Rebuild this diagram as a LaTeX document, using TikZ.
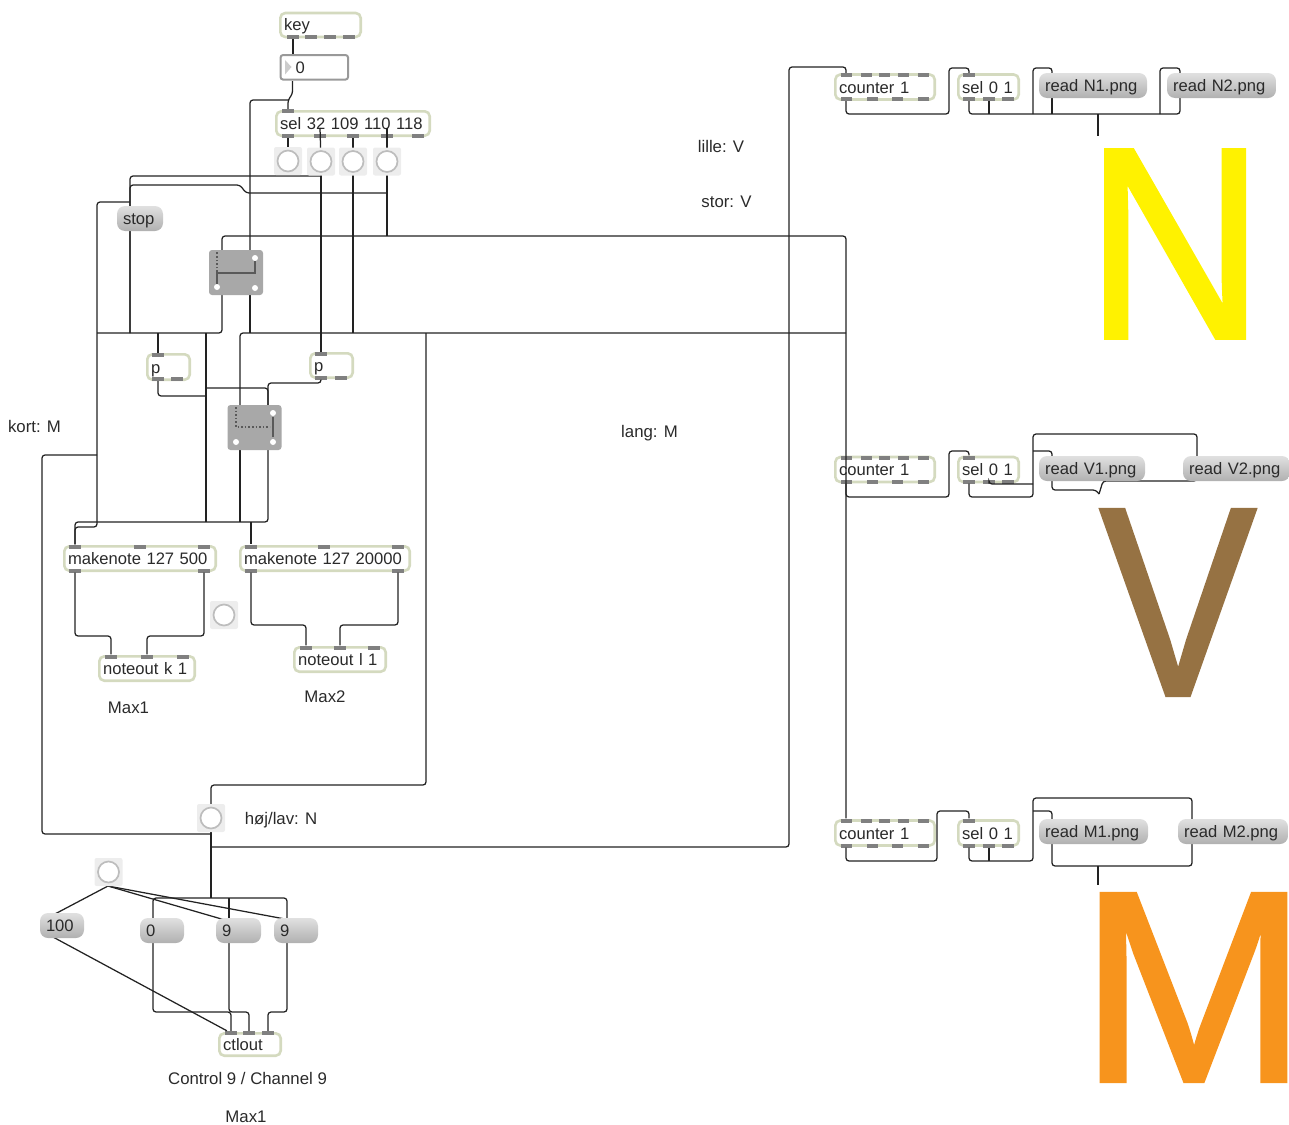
\documentclass[tikz,border=0pt]{standalone}
\usepackage{fontspec}
\setmainfont{Liberation Sans}
\newfontface\bigface{Liberation Sans}[FakeBold=1.5]
\pgfdeclarelayer{front}
\pgfsetlayers{main,front}
\definecolor{objline}{HTML}{D4DABF}
\definecolor{portgray}{HTML}{808080}
\definecolor{wirecol}{HTML}{222222}
\definecolor{txtcol}{HTML}{2A2A2A}
\definecolor{switchgray}{HTML}{A8A8A8}
\definecolor{lettern}{HTML}{FFF200}
\definecolor{letterv}{HTML}{967243}
\definecolor{letterm}{HTML}{F7941D}
\tikzset{
  lbl/.style={font=\fontsize{16.8}{20}\selectfont, text=txtcol, inner sep=0pt},
  boxtxt/.style={font=\fontsize{16.6}{20}\selectfont, text=txtcol, text width=#1, align=left,
    inner sep=0pt, text height=12pt, text depth=0pt},
  objbox/.style={boxtxt=#1, draw=objline, fill=white, line width=2.6pt, rounded corners=5pt,
    execute at begin node=\hspace*{3.8pt}},
  msgbox/.style={boxtxt=#1, top color=gray!24, bottom color=gray!62, rounded corners=8pt,
    execute at begin node=\hspace*{6pt}},
  numbox/.style={boxtxt=#1, draw=gray!80, fill=white, line width=2pt, rounded corners=2.5pt,
    execute at begin node=\hspace*{15pt}},
  portbox/.style={fill=portgray, inner sep=0pt, minimum width=12pt, minimum height=4pt},
  btnbg/.style={fill=gray!14, rounded corners=2pt},
  btnring/.style={circle, draw=gray!52, fill=white, line width=1.7pt, inner sep=0pt, minimum size=21pt},
  swbox/.style={fill=switchgray, rounded corners=3pt, inner sep=0pt, minimum width=54pt, minimum height=45pt},
  swdot/.style={circle, fill=white, inner sep=0pt, minimum size=6pt},
  wire/.style={draw=wirecol, line width=1.25pt, rounded corners=3pt},
  swon/.style={draw=black!65, line width=1.8pt},
  swoff/.style={draw=black!65, line width=1.6pt, dotted},
  bigletter/.style={inner sep=0pt, font=\bigface\fontsize{#1}{#1}\selectfont}
}
\begin{document}
\begin{tikzpicture}[x=1pt,y=-1pt]
\useasboundingbox (0,0) rectangle (1289,1124);

% Bogstaverne
\node[bigletter=273, text=lettern] (bign) at (1175,244) {\scalebox{.907}[1]{N}};
\node[bigletter=269, text=letterv] (bigv) at (1178,602.5) {\scalebox{.87}[1]{V}};
\node[bigletter=272, text=letterm] (bigm) at (1193.5,987.5) {\makebox[180pt]{\scalebox{1.01}[1]{M}}};

% Tekster
\node[lbl] (tkort) at (34.5,426) {kort: M};
\node[lbl] (tlang) at (649.5,433) {lang: M};
\node[lbl] (tlille) at (721,146) {lille: V};
\node[lbl] (tstor) at (726.5,201.5) {stor: V};
\node[lbl] (thoj) at (281,820) {høj/lav: N};
\node[lbl] (tmaxa) at (128.5,707.5) {Max1};
\node[lbl] (tmaxb) at (325,696.5) {Max2};
\node[lbl] (tctl) at (247.5,1078) {Control 9 / Channel 9};
\node[lbl] (tmaxc) at (246,1117) {Max1};

% Objekter
\node[objbox=80.4pt, minimum height=24pt] (key) at (320.5,25) {key};
\node[objbox=153.4pt, minimum height=24.4pt] (sel) at (353,123.5) {sel 32 109 110 118};
\node[objbox=42.4pt, minimum height=25.4pt] (pa) at (168.5,367) {p};
\node[objbox=42.4pt, minimum height=24.4pt] (pb) at (331.5,365.5) {p};
\node[objbox=151.4pt, minimum height=24.4pt] (mka) at (140,558.5) {makenote 127 500};
\node[objbox=169.4pt, minimum height=24.4pt] (mkb) at (325,558.5) {makenote 127 20000};
\node[objbox=95.4pt, minimum height=24.4pt] (nta) at (147,668.5) {noteout k 1};
\node[objbox=91.4pt, minimum height=24.4pt] (ntb) at (340,659.5) {noteout l 1};
\node[objbox=61.4pt, minimum height=22.4pt] (ctl) at (250,1044.5) {ctlout};
\foreach \n/\y in {n/87,v/469.5,m/833} {
  \node[objbox=99.4pt, minimum height=25pt] (cnt\n) at (885,\y) {counter 1};
  \node[objbox=60.4pt, minimum height=25pt] (sl\n) at (988.5,\y) {sel 0 1};
}

% Porte
\foreach \n/\x in {keyo/293,keyb/311,keyc/330,keyd/349} \node[portbox] (\n) at (\x,37) {};
\node[portbox] (seli) at (288,111) {};
\foreach \n/\x in {selo1/288,selo2/320,selo3/353,selo4/387,selo5/418} \node[portbox] (\n) at (\x,136) {};
\node[portbox] (pai) at (158,355) {};
\foreach \n/\x in {pao/158,pab/177} \node[portbox] (\n) at (\x,379) {};
\node[portbox] (pbi) at (321,354) {};
\foreach \n/\x in {pbo/321,pbb/341} \node[portbox] (\n) at (\x,377.5) {};
\foreach \n/\x in {mkai/75,mkab/140,mkac/204} \node[portbox] (\n) at (\x,546.5) {};
\foreach \n/\x in {mkao1/75,mkao2/204} \node[portbox] (\n) at (\x,570.5) {};
\foreach \n/\x in {mkbi/251,mkbb/324,mkbc/398} \node[portbox] (\n) at (\x,546.5) {};
\foreach \n/\x in {mkbo1/251,mkbo2/398} \node[portbox] (\n) at (\x,570.5) {};
\foreach \n/\x in {ntai1/111,ntai2/147,ntai3/183} \node[portbox] (\n) at (\x,656.5) {};
\foreach \n/\x in {ntbi1/306,ntbi2/340,ntbi3/374} \node[portbox] (\n) at (\x,647.5) {};
\foreach \n/\x in {ctli1/231,ctli2/249,ctli3/268} \node[portbox] (\n) at (\x,1033) {};
\foreach \n/\y/\z in {n/75/99,v/457.5/481.5,m/820.5/845.5} {
  \foreach \a/\x in {i/846,b/866,c/884,d/903,e/923} \node[portbox, minimum width=11pt] (cnt\n\a) at (\x,\y) {};
  \foreach \a/\x in {o/846,f/872,g/897,h/923} \node[portbox, minimum width=11pt] (cnt\n\a) at (\x,\z) {};
  \node[portbox] (sl\n i) at (969,\y) {};
  \foreach \a/\x in {o/969,p/989,q/1008} \node[portbox] (sl\n\a) at (\x,\z) {};
}

% Alt der ligger over ledningerne
\begin{pgfonlayer}{front}
\node[numbox=67.5pt, minimum height=24.5pt] (num) at (314.3,67.3) {0};
\fill[gray!40] (285,60) -- (291.5,67) -- (285,74.5) -- cycle;
\foreach \n/\x/\y in {ba/288/161,bb/321/161.5,bc/353/161.5,bd/387/161.5,be/224/615,bf/211/818,bg/108.5/872} {
  \fill[btnbg] (\x-14,\y-14) rectangle (\x+14,\y+14);
  \node[btnring] (\n) at (\x,\y) {};
}
\node[msgbox=46pt, minimum height=25pt] (stop) at (140,218.5) {stop};
\node[msgbox=44pt, minimum height=25pt] (mhun) at (62,925.5) {100};
\node[msgbox=44pt, minimum height=25pt] (mzero) at (162,930.5) {0};
\node[msgbox=45pt, minimum height=25pt] (mnina) at (238.5,930.5) {9};
\node[msgbox=44pt, minimum height=25pt] (mninb) at (296,930.5) {9};
\node[msgbox=108pt, minimum height=25pt] (rna) at (1093,85.5) {read N1.png};
\node[msgbox=109pt, minimum height=25pt] (rnb) at (1221.5,85.5) {read N2.png};
\node[msgbox=106pt, minimum height=25pt] (rva) at (1092,468.5) {read V1.png};
\node[msgbox=107pt, minimum height=25pt] (rvb) at (1236.5,468.5) {read V2.png};
\node[msgbox=109pt, minimum height=25pt] (rma) at (1093.5,831.5) {read M1.png};
\node[msgbox=110pt, minimum height=25pt] (rmb) at (1233,831.5) {read M2.png};
% Kontakter
\node[swbox] (swa) at (236,272.5) {};
\draw[swoff] (217,272) -- (217,252);
\draw[swon] (217,287) -- (217,273) -- (255,273) -- (255,258);
\foreach \n/\x/\y in {swaa/217/287,swab/255/258,swac/255/288} \node[swdot] (\n) at (\x,\y) {};
\node[swbox] (swb) at (254.5,427.5) {};
\draw[swoff] (236,407) -- (236,427) -- (270,427);
\draw[swon] (273,417) -- (273,437);
\foreach \n/\x/\y in {swba/236/442,swbb/273/413,swbc/273/442} \node[swdot] (\n) at (\x,\y) {};
\end{pgfonlayer}

% Punkter
\coordinate (selb) at (320,128);
\coordinate (seld) at (387,128);
\coordinate (numo) at (292.5,81);
\coordinate (numj) at (289,100);
\coordinate (swatl) at (222,265);
\coordinate (swatr) at (250,265);
\coordinate (swabl) at (222,285);
\coordinate (swabr) at (250,285);
\coordinate (swbtl) at (240,420);
\coordinate (swbtr) at (268,420);
\coordinate (swbbl) at (240,440);
\coordinate (swbbr) at (268,440);
\coordinate (jtop) at (321,176);
\coordinate (jstop) at (130,202);
\coordinate (jbd) at (387,193);
\coordinate (busc) at (130,333);
\coordinate (busl) at (97,333);
\coordinate (busr) at (846,333);
\coordinate (jfar) at (846,236);
\coordinate (jmk) at (97,527);
\coordinate (jkort) at (97,455);
\coordinate (jlang) at (426,333);
\coordinate (jbot) at (211,898);
\coordinate (jp) at (206,333);
\coordinate (jpb) at (206,396);
\coordinate (jpc) at (206,388);
\coordinate (jpd) at (206,522);
\coordinate (jhoj) at (211,834);
\coordinate (jout) at (211,847);
\coordinate (mzi) at (153,930);
\coordinate (mnai) at (229,930);
\coordinate (mnbi) at (287,930);
\coordinate (bgo) at (108,886);
\coordinate (mhuo) at (53,937);
\coordinate (mhut) at (53,915);
\coordinate (mnat) at (225,920);
\coordinate (mnbt) at (285,919);

% Ledninger
\draw[wire] (keyo) -- (keyo |- num);
\draw[wire] (numo) -- (292.5,94) -- (288,100) -- (seli);
\draw[wire] (numj) -| (swatr);
\draw[wire] (selo1) -- (ba);
\draw[wire] (selb) -- (bb);
\draw[wire] (selo3) -- (bc);
\draw[wire] (seld) -- (bd);
\draw[wire] (bb) -- (pbi);
\draw[wire] (bc) -- (bc |- busr);
\draw[wire] (bd) -- (bd |- jfar);
\draw[wire] (jtop) -| (busc);
\draw[wire] (jbd) -- (246,193) -- (240,185) -- (130,185) -- (busc);
\draw[wire] (jstop) -| (jmk) -| (mkai);
\draw[wire] (swatl) |- (jfar) -- (cntmi);
\draw[wire] (swabl) |- (busl);
\draw[wire] (swabr) -- (swabr |- busr);
\draw[wire] (swbtl) |- (busr);
\draw[wire] (pai |- busl) -- (pai);
\draw[wire] (jp) -- (jpd);
\draw[wire] (pao) |- (jpb);
\draw[wire] (jpc) -| (swbtr);
\draw[wire] (pbo) -- (pbo |- 0,383) -| (swbtr);
\draw[wire] (swbbr) -- (swbbr |- jpd) -| (mkai);
\draw[wire] (swbbl) -- (swbbl |- jpd);
\draw[wire] (mkbi |- jpd) -- (mkbi);
\draw[wire] (mkao1) -- (mkao1 |- 0,636) -| (ntai1);
\draw[wire] (mkao2) -- (mkao2 |- 0,636) -| (ntai2);
\draw[wire] (mkbo1) -- (mkbo1 |- 0,625) -| (ntbi1);
\draw[wire] (mkbo2) -- (mkbo2 |- 0,625) -| (ntbi2);
\draw[wire] (jlang) -- (jlang |- 0,785) -| (bf);
\draw[wire] (bf) -- (jbot);
\draw[wire] (jhoj) -| (42,455) -- (jkort);
\draw[wire] (jout) -| (789,67) -| (cntni);
\draw[wire] (mzi) -- (mzi |- jbot) -| (mnbi);
\draw[wire] (mnai) -- (mnai |- jbot);
\draw[wire] (bgo) -- (mhut);
\draw[wire] (bgo) -- (mnat);
\draw[wire] (bgo) -- (mnbt);
\draw[wire] (mhuo) -- (ctli1);
\draw[wire] (mzi) -- (mzi |- 0,1012) -| (ctli1);
\draw[wire] (mnai) -- (mnai |- 0,1012) -| (ctli2);
\draw[wire] (mnbi) -- (mnbi |- 0,1012) -| (ctli3);

% N
\coordinate (rnai) at (1052,85);
\coordinate (rnbi) at (1180,85);
\draw[wire] (cntno) |- (949,114) |- (969,68) -- (slni);
\draw[wire] (slno) -- (slno |- 0,114) -| (rnbi);
\draw[wire] (slnp) -- (slnp |- 0,114);
\draw[wire] (rnai) -- (rnai |- 0,114);
\draw[wire] (1033,114) |- (1052,68) -- (rnai);
\draw[wire] (1160,114) |- (1180,68) -- (rnbi);
\draw[wire] (1098,114) -- (1098,136);

% V
\coordinate (rvai) at (1052,468);
\coordinate (rvbi) at (1197,468);
\coordinate (vout) at (1099,494);
\draw[wire] (cntvo) |- (949,497) |- (969,451) -- (slvi);
\draw[wire] (slvo) |- (1033,497) |- (1197,434) -- (rvbi);
\draw[wire] (slvp) |- (1033,484);
\draw[wire] (1033,451) -| (rvai);
\draw[wire] (rvai) |- (1096,490) -- (vout);
\draw[wire] (rvbi) |- (1103,481) -- (vout);

% M
\coordinate (rmai) at (1052,831);
\coordinate (rmbi) at (1192,831);
\draw[wire] (cntmo) |- (937,861) |- (969,811) -- (slmi);
\draw[wire] (slmo) |- (1033,861) |- (1192,798) -- (rmbi);
\draw[wire] (slmp) -- (slmp |- 0,861);
\draw[wire] (1033,811) -| (rmai);
\draw[wire] (rmai) -- (rmai |- 0,866) -| (rmbi);
\draw[wire] (1098,866) -- (1098,885);
\end{tikzpicture}
\end{document}
